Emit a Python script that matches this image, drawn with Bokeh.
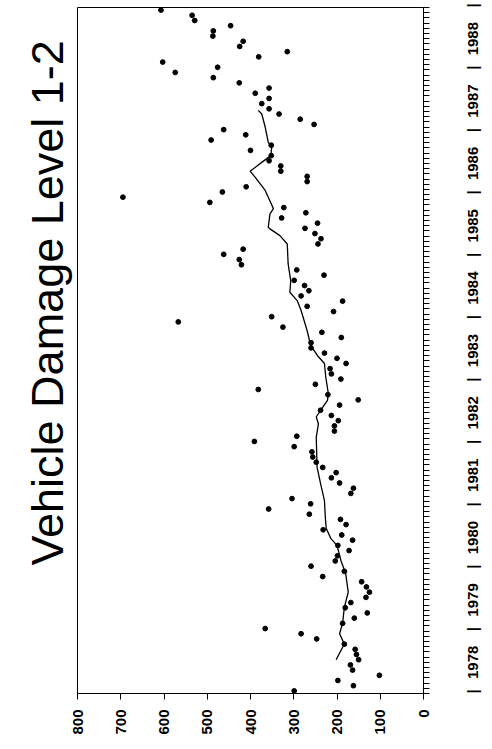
import math
from bokeh.plotting import figure
from bokeh.models import Range1d, FixedTicker, Title
from bokeh.embed import file_html
from bokeh.resources import INLINE

# ---- data (monthly values, Jan 1978 .. Dec 1988) ----
months = list(range(132))
values = [299, 162, 198, 102, 164, 169, 150, 155, 158, 183, 247, 283,
          366, 187, 160, 130, 181, 168, 133, 125, 132, 143, 233, 183,
          260, 204, 199, 172, 198, 164, 189, 232, 179, 192, 264, 358,
          261, 304, 168, 162, 194, 213, 202, 233, 248, 256, 258, 299,
          391, 293, 206, 206, 197, 213, 238, 194, 151, 221, 382, 250,
          191, 213, 216, 179, 200, 229, 260, 260, 190, 235, 325, 567,
          351, 208, 269, 187, 283, 265, 275, 299, 230, 293, 421, 426,
          462, 417, 244, 237, 251, 274, 245, 328, 272, 323, 494, 695,
          465, 410, 269, 269, 330, 330, 357, 352, 400, 352, 491, 411,
          462, 253, 285, 334, 357, 374, 357, 389, 357, 426, 486, 574,
          476, 603, 381, 315, 425, 417, 487, 486, 446, 529, 535, 607]

# smoothed trend (month index, value)
trend_month = [6.0, 8.4, 9.0, 11.0, 13.1, 16.1, 19.0, 22.6, 25.1, 28.0, 29.3,
               31.3, 33.4, 36.6, 39.9, 43.0, 48.8, 51.4, 52.7, 54.0, 55.9,
               57.2, 60.4, 63.0, 64.5, 66.5, 69.3, 73.2, 75.1, 76.7, 78.9,
               82.2, 86.0, 87.6, 88.9, 89.2, 91.8, 92.8, 96.3, 98.8, 100.0,
               101.7, 103.0, 104.6, 105.6, 108.5, 111.0, 111.7]
trend_value = [202, 187, 183, 194, 187, 183, 174, 180, 191, 200, 214,
               225, 227, 229, 238, 246, 248, 243, 248, 238, 222,
               220, 226, 229, 245, 261, 269, 283, 292, 309, 307,
               313, 315, 332, 355, 359, 355, 347, 366, 389, 401,
               374, 353, 351, 359, 366, 374, 382]

value_ticks = [0, 100, 200, 300, 400, 500, 600, 700, 800]
years = list(range(1978, 1989))

dates = [1978 + (m + 0.5) / 12 for m in months]
trend_dates = [1978 + (m + 0.5) / 12 for m in trend_month]

p = figure(width=492, height=749, output_backend="svg", toolbar_location=None,
           x_range=Range1d(800, 0), y_range=Range1d(1978, 1989),
           x_axis_location="below", y_axis_location="right",
           min_border_left=77, min_border_right=65,
           min_border_top=7, min_border_bottom=56)
p.background_fill_color = "white"
p.border_fill_color = "white"
p.outline_line_color = "black"
p.outline_line_width = 1
p.xgrid.visible = False
p.ygrid.visible = False

font = "Liberation Sans"
label_px = 15

xa = p.xaxis[0]
xa.ticker = FixedTicker(ticks=value_ticks, minor_ticks=[])
xa.major_tick_out = 6
xa.major_tick_in = 0
xa.minor_tick_out = 0
xa.axis_line_color = "black"
xa.major_label_orientation = math.pi / 2
xa.major_label_standoff = 10
xa.major_label_text_font = font
xa.major_label_text_font_style = "bold"
xa.major_label_text_font_size = f"{label_px}px"
xa.major_label_text_color = "black"

# right axis: year names centred in each year, "|" separators at year ends.
# Rotated labels start at their tick, so shift each year label back by half
# its rendered length (4 digits * 0.556 em) expressed in years.
frame_h = 749 - 7 - 56
px_per_year = frame_h / 11
half_len = 4 * 0.556 * label_px / 2 / px_per_year

ya = p.yaxis[0]
year_ticks = []
overrides = {}
for y in years:
    year_ticks.append(y)
    overrides[y] = "|"
    t = y + 0.5 - half_len
    year_ticks.append(t)
    overrides[t] = str(y)
year_ticks.append(1989)
overrides[1989] = "|"
ya.ticker = FixedTicker(ticks=year_ticks,
                        minor_ticks=[1978 + k / 12 for k in range(133)])
ya.major_label_overrides = overrides
ya.major_tick_out = 0
ya.major_tick_in = 0
ya.minor_tick_out = 6
ya.minor_tick_in = 0
ya.axis_line_color = "black"
ya.major_label_orientation = math.pi / 2
ya.major_label_standoff = 43
ya.major_label_text_font = font
ya.major_label_text_font_style = "bold"
ya.major_label_text_font_size = f"{label_px}px"
ya.major_label_text_color = "black"

title = Title(text="Vehicle Damage Level 1-2", align="left", offset=128,
              text_font=font, text_font_style="normal",
              text_font_size="45px", text_color="black")
p.add_layout(title, "left")

p.line(trend_value, trend_dates, line_color="black", line_width=1.3)
p.scatter(values, dates, size=4.8, fill_color="black", line_color="black")

open("out.html", "w").write(file_html(p, INLINE))
